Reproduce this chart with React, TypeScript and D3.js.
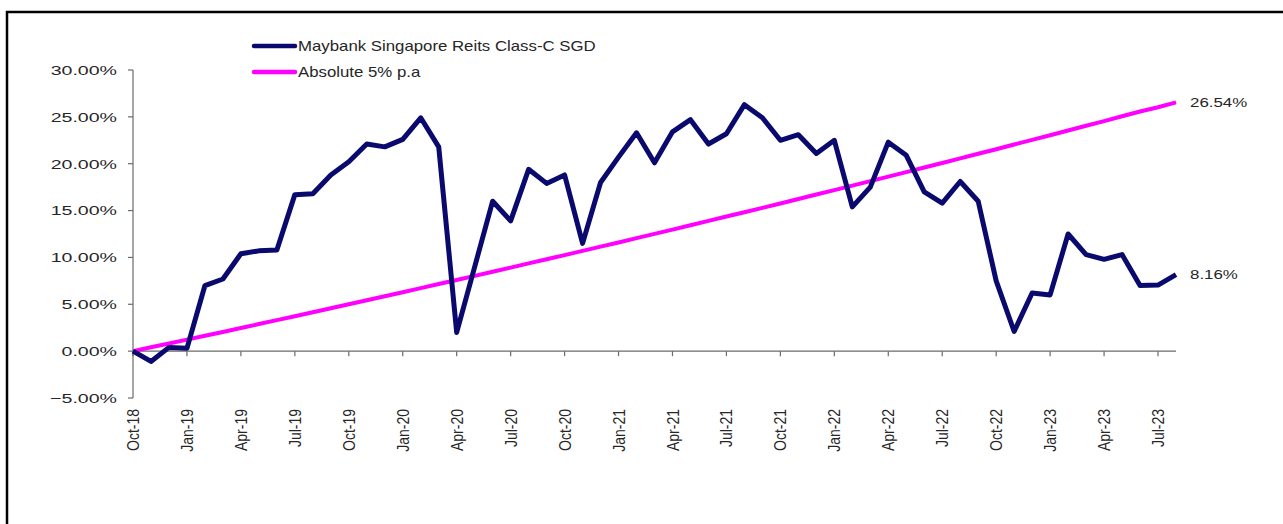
import { useRef, useEffect } from "react";
import * as d3 from "d3";

// monthly categories, Oct-18 .. Aug-23
const months = [
  "Oct-18", "Nov-18", "Dec-18", "Jan-19", "Feb-19", "Mar-19", "Apr-19", "May-19", "Jun-19",
  "Jul-19", "Aug-19", "Sep-19", "Oct-19", "Nov-19", "Dec-19", "Jan-20", "Feb-20", "Mar-20",
  "Apr-20", "May-20", "Jun-20", "Jul-20", "Aug-20", "Sep-20", "Oct-20", "Nov-20", "Dec-20",
  "Jan-21", "Feb-21", "Mar-21", "Apr-21", "May-21", "Jun-21", "Jul-21", "Aug-21", "Sep-21",
  "Oct-21", "Nov-21", "Dec-21", "Jan-22", "Feb-22", "Mar-22", "Apr-22", "May-22", "Jun-22",
  "Jul-22", "Aug-22", "Sep-22", "Oct-22", "Nov-22", "Dec-22", "Jan-23", "Feb-23", "Mar-23",
  "Apr-23", "May-23", "Jun-23", "Jul-23", "Aug-23",
];

// cumulative return, %
const fundValues = [
  0.0, -1.1, 0.4, 0.3, 7.0, 7.7, 10.4, 10.7, 10.8, 16.7, 16.8, 18.8, 20.2, 22.1, 21.8,
  22.6, 24.9, 21.8, 2.0, 9.0, 16.0, 13.9, 19.4, 17.9, 18.8, 11.5, 18.0, 20.7, 23.3, 20.1,
  23.4, 24.7, 22.1, 23.2, 26.3, 24.9, 22.5, 23.1, 21.1, 22.5, 15.4, 17.5, 22.3, 20.9, 17.0,
  15.8, 18.1, 16.0, 7.5, 2.1, 6.2, 6.0, 12.5, 10.3, 9.8, 10.3, 7.0, 7.05, 8.16,
];

const benchmarkValues = [
  0.0, 0.41, 0.82, 1.23, 1.64, 2.05, 2.47, 2.89, 3.31, 3.73, 4.15, 4.57, 5.0, 5.43, 5.86,
  6.29, 6.72, 7.16, 7.59, 8.03, 8.47, 8.91, 9.36, 9.8, 10.25, 10.7, 11.15, 11.6, 12.06, 12.51,
  12.97, 13.43, 13.9, 14.36, 14.82, 15.29, 15.76, 16.23, 16.71, 17.18, 17.66, 18.14, 18.62,
  19.1, 19.59, 20.08, 20.57, 21.06, 21.55, 22.05, 22.54, 23.04, 23.54, 24.05, 24.55, 25.06,
  25.57, 26.03, 26.54,
];

const yTicks = [-5, 0, 5, 10, 15, 20, 25, 30];
const seriesNames = ["Maybank Singapore Reits Class-C SGD", "Absolute 5% p.a"];
const seriesColors = ["#0a0a6e", "#ff00ff"];

const FONT = "'Liberation Sans', Arial, sans-serif";

const App = () => {
  const svgRef = useRef<SVGSVGElement>(null);
  const width = 1283;
  const height = 524;

  useEffect(() => {
    const svg = d3.select(svgRef.current);
    svg.selectAll("*").remove();

    const x = d3.scalePoint<string>().domain(months).range([133, 1176]);
    const y = d3.scaleLinear().domain([-5, 30]).range([398, 70]);

    // outer frame
    svg.append("rect")
      .attr("x", 7).attr("y", 12)
      .attr("width", 1400).attr("height", 700)
      .attr("fill", "white")
      .attr("stroke", "black")
      .attr("stroke-width", 2.5);

    const axisColor = "#6b6b6b";
    const textColor = "#262626";

    // y axis
    svg.append("line")
      .attr("x1", 133).attr("x2", 133)
      .attr("y1", y(-5)).attr("y2", y(30))
      .attr("stroke", axisColor).attr("stroke-width", 1.2);

    const yTick = svg.append("g").selectAll("g").data(yTicks).enter().append("g");
    yTick.append("line")
      .attr("x1", 128).attr("x2", 133)
      .attr("y1", d => y(d)).attr("y2", d => y(d))
      .attr("stroke", axisColor).attr("stroke-width", 1.2);
    yTick.append("text")
      .attr("transform", d => `translate(117,${y(d)}) scale(1.45,1)`)
      .attr("dy", "0.36em")
      .attr("text-anchor", "end")
      .attr("font-family", FONT)
      .attr("font-size", 13.5)
      .attr("fill", textColor)
      .text(d => d3.format(".2f")(d) + "%");

    // x axis
    svg.append("line")
      .attr("x1", 133).attr("x2", x(months[months.length - 1]) as number)
      .attr("y1", y(0)).attr("y2", y(0))
      .attr("stroke", axisColor).attr("stroke-width", 1.2);

    const shown = months.filter((_, i) => i % 3 === 0);
    const xTick = svg.append("g").selectAll("g").data(shown).enter().append("g");
    xTick.append("line")
      .attr("x1", d => x(d) as number).attr("x2", d => x(d) as number)
      .attr("y1", y(0)).attr("y2", y(0) + 5)
      .attr("stroke", axisColor).attr("stroke-width", 1.2);
    xTick.append("text")
      .attr("transform", d => `translate(${x(d)},409) scale(1.2,1) rotate(-90)`)
      .attr("dy", "0.36em")
      .attr("text-anchor", "end")
      .attr("font-family", FONT)
      .attr("font-size", 14)
      .attr("fill", textColor)
      .text(d => d);

    // series
    const line = d3.line<number>()
      .x((_, i) => x(months[i]) as number)
      .y(d => y(d));

    svg.append("path")
      .datum(benchmarkValues)
      .attr("d", line)
      .attr("fill", "none")
      .attr("stroke", seriesColors[1])
      .attr("stroke-width", 4)
      .attr("stroke-linejoin", "round");

    svg.append("path")
      .datum(fundValues)
      .attr("d", line)
      .attr("fill", "none")
      .attr("stroke", seriesColors[0])
      .attr("stroke-width", 5)
      .attr("stroke-linejoin", "round");

    // end labels
    const lastX = x(months[months.length - 1]) as number;
    [benchmarkValues, fundValues].forEach(vals => {
      const v = vals[vals.length - 1];
      svg.append("text")
        .attr("transform", `translate(${lastX + 14},${y(v)}) scale(1.3,1)`)
        .attr("dy", "0.36em")
        .attr("font-family", FONT)
        .attr("font-size", 13)
        .attr("fill", textColor)
        .text(d3.format(".2f")(v) + "%");
    });

    // legend
    const legend = svg.append("g").selectAll("g").data(seriesNames).enter().append("g")
      .attr("transform", (_, i) => `translate(0,${46 + i * 26})`);
    legend.append("line")
      .attr("x1", 254).attr("x2", 295)
      .attr("y1", 0).attr("y2", 0)
      .attr("stroke", (_, i) => seriesColors[i])
      .attr("stroke-width", 4.5)
      .attr("stroke-linecap", "round");
    legend.append("text")
      .attr("transform", "translate(298,0) scale(1.2,1)")
      .attr("dy", "0.36em")
      .attr("font-family", FONT)
      .attr("font-size", 14)
      .attr("fill", textColor)
      .text(d => d);
  }, []);

  return (
    <svg
      ref={svgRef}
      width={width}
      height={height}
      style={{ position: "absolute", left: 0, top: 0, background: "white" }}
    ></svg>
  );
};

export default App;
